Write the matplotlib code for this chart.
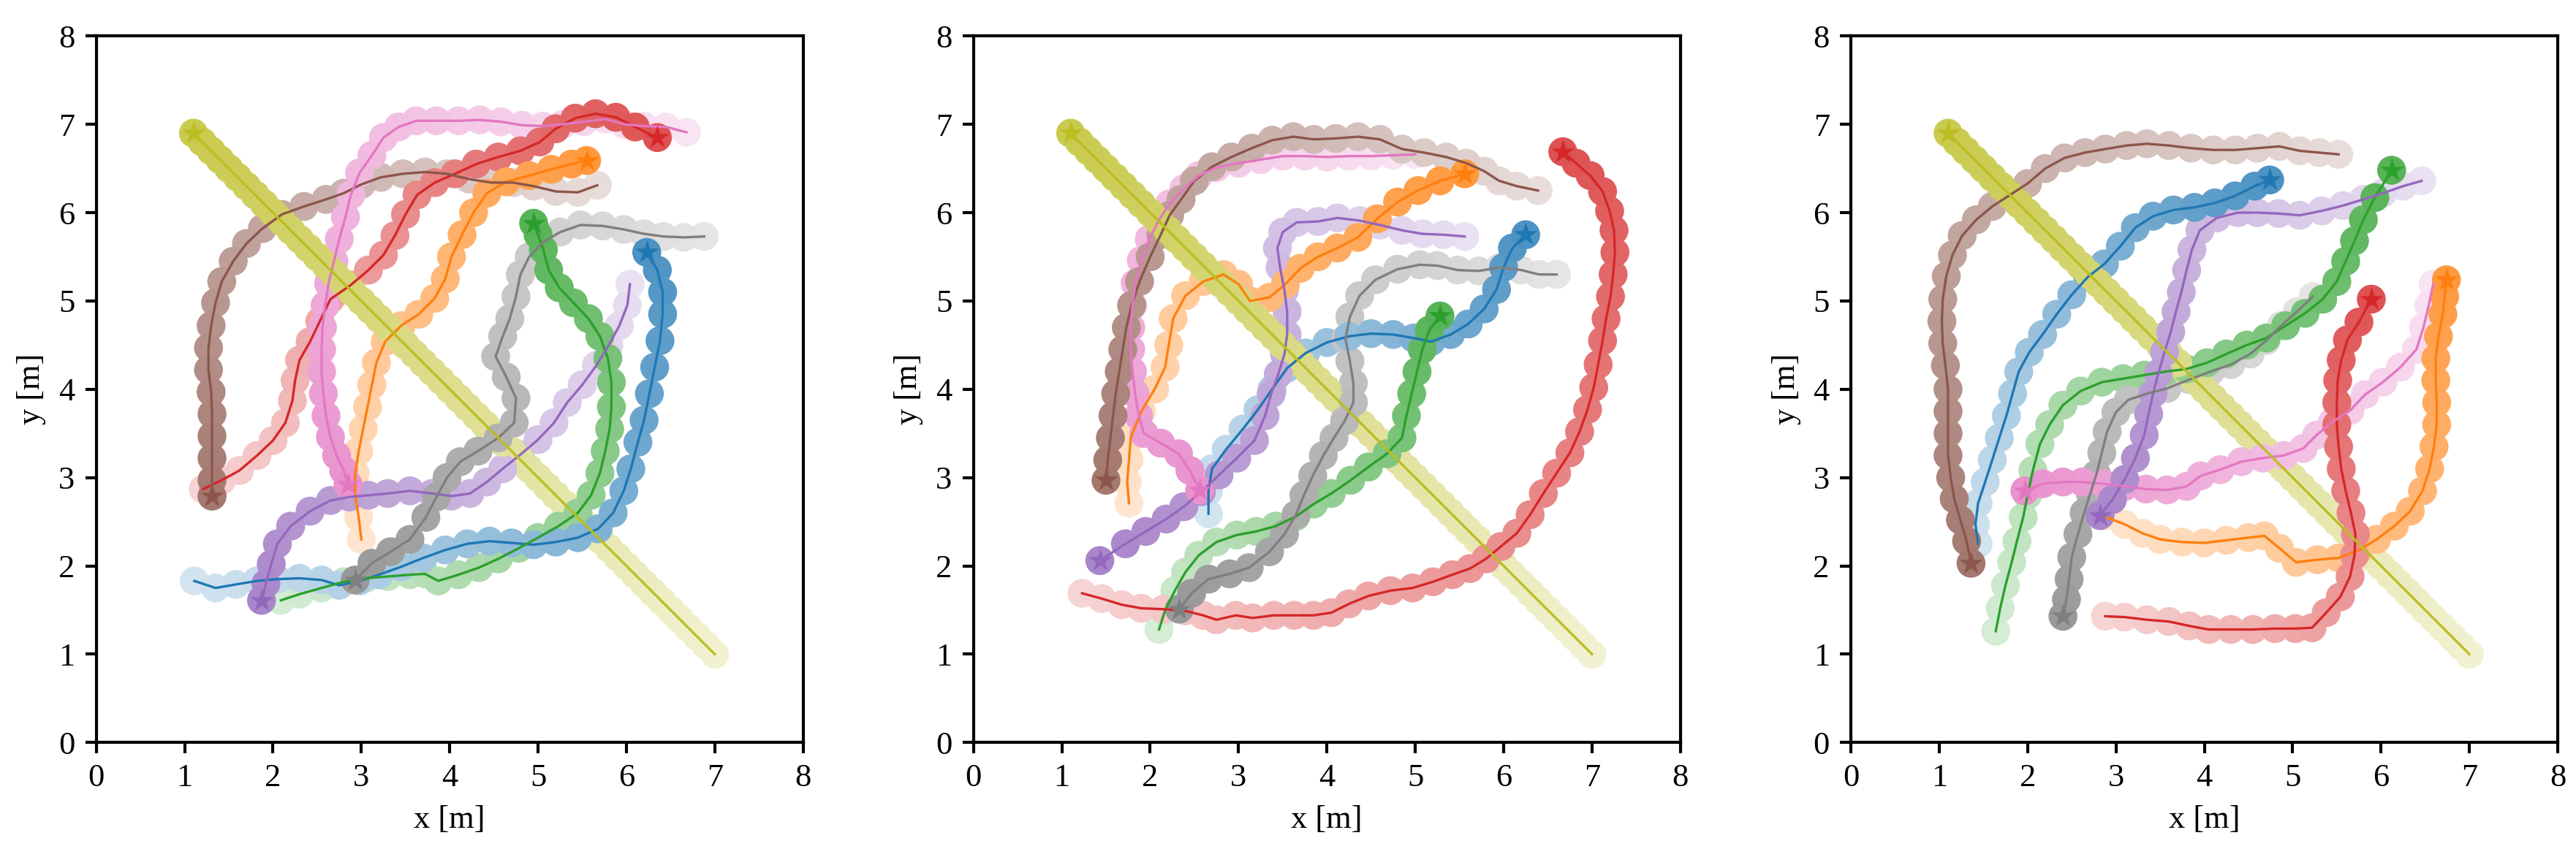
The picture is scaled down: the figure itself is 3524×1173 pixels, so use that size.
"""Robot trajectories of three runs, drawn as fading discs with the path line on top"""

import matplotlib

matplotlib.use("Agg")

import matplotlib.pyplot as plt
import numpy as np
from matplotlib.axes import Axes
from matplotlib.colors import to_rgb

plt.rcParams["font.family"] = ["Liberation Serif", "DejaVu Serif"]
plt.rcParams["font.size"] = 10.7
plt.rcParams["axes.linewidth"] = 1.0
plt.rcParams["xtick.major.width"] = 1.0
plt.rcParams["ytick.major.width"] = 1.0

# Robot colours, in the order the paths are listed
ROBOT_COLORS = ["tab:blue", "tab:orange", "tab:green", "tab:red", "tab:purple",
                "tab:brown", "tab:pink", "tab:gray", "tab:olive"]

# The olive robot takes the same diagonal in every run (start -> goal), in small steps
OLIVE_PATH = np.array([
    (7.0, 1.0), (6.9, 1.1), (6.8, 1.2), (6.7, 1.3), (6.6, 1.4), (6.5, 1.5), (6.4, 1.6),
    (6.3, 1.7), (6.2, 1.8), (6.1, 1.9), (6.0, 2.0), (5.9, 2.1), (5.8, 2.2), (5.7, 2.3),
    (5.6, 2.4), (5.5, 2.5), (5.4, 2.6), (5.3, 2.7), (5.2, 2.8), (5.1, 2.9), (5.0, 3.0),
    (4.9, 3.1), (4.8, 3.2), (4.7, 3.3), (4.6, 3.4), (4.5, 3.5), (4.4, 3.6), (4.3, 3.7),
    (4.2, 3.8), (4.1, 3.9), (4.0, 4.0), (3.9, 4.1), (3.8, 4.2), (3.7, 4.3), (3.6, 4.4),
    (3.5, 4.5), (3.4, 4.6), (3.3, 4.7), (3.2, 4.8), (3.1, 4.9), (3.0, 5.0), (2.9, 5.1),
    (2.8, 5.2), (2.7, 5.3), (2.6, 5.4), (2.5, 5.5), (2.4, 5.6), (2.3, 5.7), (2.2, 5.8),
    (2.1, 5.9), (2.0, 6.0), (1.9, 6.1), (1.8, 6.2), (1.7, 6.3), (1.6, 6.4), (1.5, 6.5),
    (1.4, 6.6), (1.3, 6.7), (1.2, 6.8), (1.1, 6.9),
])

# ---- Run 1 ----
P1_BLUE = np.array([
    (1.11, 1.83), (1.35, 1.75), (1.58, 1.79), (1.82, 1.83), (2.05, 1.85), (2.3, 1.86),
    (2.55, 1.84), (2.75, 1.78), (2.98, 1.83), (3.2, 1.9), (3.45, 1.99), (3.7, 2.09),
    (3.95, 2.18), (4.2, 2.25), (4.45, 2.28), (4.7, 2.26), (4.95, 2.24), (5.2, 2.27),
    (5.45, 2.32), (5.68, 2.42), (5.85, 2.6), (5.97, 2.85), (6.05, 3.1), (6.13, 3.4),
    (6.2, 3.65), (6.26, 3.95), (6.32, 4.25), (6.38, 4.55), (6.41, 4.85), (6.41, 5.1),
    (6.35, 5.35), (6.23, 5.55),
])
P1_ORANGE = np.array([
    (3.0, 2.3), (2.97, 2.55), (2.93, 2.8), (2.93, 3.05), (2.97, 3.3), (3.02, 3.55),
    (3.07, 3.8), (3.12, 4.05), (3.17, 4.3), (3.27, 4.54), (3.45, 4.72), (3.65, 4.85),
    (3.83, 5.03), (3.95, 5.25), (4.02, 5.5), (4.14, 5.75), (4.27, 6.0), (4.42, 6.22),
    (4.64, 6.35), (4.9, 6.42), (5.15, 6.49), (5.38, 6.55), (5.55, 6.59),
])
P1_GREEN = np.array([
    (2.09, 1.61), (2.3, 1.68), (2.55, 1.75), (2.8, 1.82), (3.05, 1.86), (3.3, 1.88),
    (3.55, 1.9), (3.72, 1.91), (3.87, 1.83), (4.1, 1.9), (4.33, 1.98), (4.55, 2.08),
    (4.78, 2.2), (5.0, 2.32), (5.23, 2.45), (5.45, 2.6), (5.6, 2.8), (5.7, 3.05),
    (5.76, 3.3), (5.81, 3.55), (5.83, 3.8), (5.83, 4.08), (5.79, 4.35), (5.7, 4.6),
    (5.57, 4.8), (5.4, 4.98), (5.24, 5.15), (5.12, 5.35), (5.06, 5.58), (5.0, 5.75),
    (4.95, 5.88),
])
P1_RED = np.array([
    (1.21, 2.87), (1.42, 2.97), (1.62, 3.08), (1.82, 3.25), (2.0, 3.42), (2.14, 3.62),
    (2.22, 3.87), (2.25, 4.1), (2.3, 4.33), (2.42, 4.54), (2.53, 4.77), (2.65, 5.02),
    (2.88, 5.18), (3.08, 5.35), (3.25, 5.52), (3.38, 5.74), (3.5, 5.98), (3.63, 6.2),
    (3.83, 6.34), (4.06, 6.44), (4.3, 6.55), (4.55, 6.63), (4.8, 6.7), (5.02, 6.8),
    (5.2, 6.95), (5.42, 7.07), (5.65, 7.12), (5.88, 7.08), (6.1, 6.97), (6.35, 6.85),
])
P1_PURPLE = np.array([
    (6.04, 5.19), (6.01, 4.95), (5.92, 4.72), (5.8, 4.5), (5.66, 4.27), (5.5, 4.05),
    (5.33, 3.85), (5.18, 3.62), (5.0, 3.43), (4.8, 3.26), (4.6, 3.1), (4.42, 2.95),
    (4.23, 2.82), (4.02, 2.79), (3.8, 2.82), (3.55, 2.85), (3.3, 2.82), (3.08, 2.8),
    (2.86, 2.78), (2.65, 2.74), (2.42, 2.62), (2.2, 2.45), (2.05, 2.25), (1.98, 2.02),
    (1.92, 1.8), (1.87, 1.61),
])
P1_BROWN = np.array([
    (5.67, 6.31), (5.45, 6.23), (5.2, 6.24), (4.95, 6.3), (4.72, 6.34), (4.47, 6.34),
    (4.22, 6.38), (3.97, 6.44), (3.72, 6.46), (3.47, 6.44), (3.22, 6.4), (3.0, 6.32),
    (2.8, 6.22), (2.6, 6.15), (2.35, 6.07), (2.1, 5.98), (1.88, 5.82), (1.7, 5.65),
    (1.55, 5.45), (1.42, 5.22), (1.35, 4.98), (1.3, 4.72), (1.27, 4.47), (1.27, 4.22),
    (1.3, 3.97), (1.31, 3.72), (1.31, 3.47), (1.31, 3.22), (1.31, 2.97), (1.31, 2.79),
])
P1_PINK = np.array([
    (6.68, 6.91), (6.45, 6.97), (6.2, 6.98), (5.98, 7.0), (5.76, 7.06), (5.52, 7.03),
    (5.28, 7.0), (5.05, 6.98), (4.82, 6.99), (4.58, 7.03), (4.34, 7.05), (4.1, 7.04),
    (3.85, 7.04), (3.62, 7.04), (3.42, 6.97), (3.25, 6.85), (3.12, 6.65), (2.98, 6.45),
    (2.88, 6.2), (2.82, 5.95), (2.75, 5.7), (2.69, 5.45), (2.63, 5.2), (2.59, 4.95),
    (2.56, 4.7), (2.55, 4.45), (2.55, 4.2), (2.57, 3.95), (2.6, 3.7), (2.65, 3.46),
    (2.72, 3.25), (2.8, 3.08), (2.85, 2.92),
])
P1_GRAY = np.array([
    (6.88, 5.73), (6.65, 5.72), (6.42, 5.73), (6.2, 5.76), (5.97, 5.81), (5.73, 5.85),
    (5.48, 5.86), (5.25, 5.78), (5.05, 5.66), (4.9, 5.5), (4.8, 5.3), (4.75, 5.05),
    (4.68, 4.8), (4.6, 4.6), (4.52, 4.37), (4.64, 4.14), (4.75, 3.9), (4.73, 3.62),
    (4.55, 3.45), (4.32, 3.3), (4.12, 3.18), (3.97, 3.0), (3.85, 2.78), (3.73, 2.55),
    (3.55, 2.3), (3.33, 2.16), (3.12, 2.03), (2.93, 1.84),
])

# ---- Run 2 ----
P2_BLUE = np.array([
    (2.66, 2.59), (2.66, 2.85), (2.7, 3.1), (2.86, 3.32), (3.05, 3.55), (3.22, 3.77),
    (3.38, 4.0), (3.55, 4.24), (3.76, 4.41), (4.0, 4.53), (4.25, 4.6), (4.5, 4.63),
    (4.75, 4.62), (4.98, 4.58), (5.18, 4.54), (5.4, 4.62), (5.6, 4.74), (5.78, 4.91),
    (5.92, 5.13), (6.0, 5.38), (6.1, 5.6), (6.25, 5.75),
])
P2_ORANGE = np.array([
    (1.76, 2.71), (1.74, 2.95), (1.76, 3.2), (1.78, 3.45), (1.9, 3.75), (2.05, 4.0),
    (2.17, 4.25), (2.21, 4.5), (2.26, 4.8), (2.4, 5.06), (2.6, 5.22), (2.83, 5.3),
    (3.0, 5.19), (3.13, 5.0), (3.35, 5.04), (3.53, 5.19), (3.7, 5.37), (3.9, 5.5),
    (4.12, 5.6), (4.35, 5.72), (4.57, 5.93), (4.8, 6.12), (5.03, 6.25), (5.28, 6.36),
    (5.56, 6.44),
])
P2_GREEN = np.array([
    (2.1, 1.28), (2.17, 1.5), (2.28, 1.72), (2.4, 1.93), (2.55, 2.12), (2.75, 2.27),
    (2.98, 2.35), (3.2, 2.39), (3.42, 2.45), (3.65, 2.56), (3.85, 2.7), (4.05, 2.82),
    (4.27, 2.97), (4.47, 3.12), (4.68, 3.27), (4.85, 3.45), (4.9, 3.7), (4.96, 3.95),
    (5.02, 4.2), (5.08, 4.45), (5.16, 4.67), (5.28, 4.83),
])
P2_RED = np.array([
    (1.23, 1.69), (1.45, 1.63), (1.68, 1.56), (1.9, 1.52), (2.15, 1.51), (2.4, 1.49),
    (2.6, 1.44), (2.75, 1.39), (2.97, 1.44), (3.16, 1.41), (3.4, 1.44), (3.63, 1.44),
    (3.85, 1.44), (4.05, 1.47), (4.25, 1.57), (4.47, 1.66), (4.72, 1.72), (4.97, 1.75),
    (5.2, 1.82), (5.42, 1.9), (5.62, 1.97), (5.8, 2.08), (5.97, 2.22), (6.15, 2.37),
    (6.3, 2.58), (6.45, 2.82), (6.6, 3.05), (6.75, 3.28), (6.86, 3.52), (6.95, 3.77),
    (7.02, 4.02), (7.07, 4.28), (7.12, 4.55), (7.16, 4.8), (7.21, 5.05), (7.24, 5.3),
    (7.26, 5.55), (7.25, 5.8), (7.2, 6.02), (7.12, 6.24), (6.98, 6.42), (6.82, 6.56),
    (6.67, 6.69),
])
P2_PURPLE = np.array([
    (5.56, 5.73), (5.32, 5.75), (5.08, 5.76), (4.85, 5.8), (4.6, 5.86), (4.37, 5.91),
    (4.12, 5.94), (3.9, 5.9), (3.66, 5.89), (3.5, 5.78), (3.44, 5.6), (3.47, 5.38),
    (3.52, 5.12), (3.55, 4.88), (3.55, 4.62), (3.52, 4.4), (3.45, 4.17), (3.37, 3.95),
    (3.3, 3.7), (3.18, 3.42), (2.98, 3.22), (2.78, 3.03), (2.58, 2.84), (2.38, 2.67),
    (2.18, 2.53), (1.95, 2.39), (1.72, 2.25), (1.43, 2.06),
])
P2_BROWN = np.array([
    (6.39, 6.25), (6.15, 6.3), (5.95, 6.36), (5.78, 6.47), (5.58, 6.56), (5.35, 6.63),
    (5.1, 6.68), (4.85, 6.72), (4.6, 6.83), (4.35, 6.86), (4.1, 6.84), (3.85, 6.83),
    (3.62, 6.86), (3.38, 6.82), (3.15, 6.73), (2.92, 6.63), (2.7, 6.52), (2.5, 6.36),
    (2.35, 6.15), (2.22, 5.97), (2.12, 5.75), (2.0, 5.5), (1.88, 5.22), (1.79, 4.95),
    (1.73, 4.7), (1.69, 4.45), (1.65, 4.2), (1.61, 3.95), (1.58, 3.7), (1.55, 3.45),
    (1.52, 3.2), (1.5, 2.97),
])
P2_PINK = np.array([
    (5.0, 6.66), (4.75, 6.65), (4.5, 6.64), (4.25, 6.64), (4.0, 6.63), (3.75, 6.64),
    (3.5, 6.64), (3.25, 6.6), (3.0, 6.56), (2.75, 6.51), (2.55, 6.42), (2.38, 6.27),
    (2.22, 6.1), (2.1, 5.92), (1.99, 5.7), (1.9, 5.46), (1.83, 5.2), (1.8, 4.95),
    (1.78, 4.7), (1.78, 4.45), (1.8, 4.2), (1.83, 3.95), (1.87, 3.7), (1.93, 3.5),
    (2.12, 3.39), (2.32, 3.27), (2.45, 3.08), (2.56, 2.86),
])
P2_GRAY = np.array([
    (6.6, 5.3), (6.4, 5.3), (6.2, 5.35), (5.96, 5.38), (5.72, 5.34), (5.48, 5.35),
    (5.25, 5.4), (5.05, 5.41), (4.8, 5.36), (4.55, 5.24), (4.37, 5.06), (4.26, 4.82),
    (4.21, 4.57), (4.26, 4.32), (4.3, 4.07), (4.3, 3.85), (4.2, 3.64), (4.08, 3.45),
    (3.96, 3.25), (3.84, 3.02), (3.74, 2.8), (3.65, 2.58), (3.52, 2.36), (3.35, 2.16),
    (3.12, 1.98), (2.9, 1.91), (2.66, 1.85), (2.47, 1.69), (2.33, 1.51),
])

# ---- Run 3 ----
P3_BLUE = np.array([
    (1.44, 2.25), (1.41, 2.47), (1.44, 2.71), (1.52, 2.95), (1.6, 3.2), (1.68, 3.45),
    (1.76, 3.7), (1.83, 3.95), (1.9, 4.2), (2.02, 4.42), (2.17, 4.62), (2.33, 4.85),
    (2.5, 5.07), (2.68, 5.27), (2.87, 5.42), (3.05, 5.62), (3.22, 5.83), (3.42, 5.96),
    (3.65, 6.03), (3.89, 6.06), (4.12, 6.11), (4.35, 6.19), (4.57, 6.3), (4.74, 6.37),
])
P3_ORANGE = np.array([
    (2.87, 2.56), (3.1, 2.47), (3.3, 2.37), (3.5, 2.3), (3.75, 2.27), (4.0, 2.26),
    (4.25, 2.29), (4.5, 2.32), (4.68, 2.34), (4.85, 2.2), (5.04, 2.04), (5.28, 2.07),
    (5.52, 2.09), (5.75, 2.18), (5.95, 2.3), (6.15, 2.45), (6.33, 2.62), (6.47, 2.85),
    (6.55, 3.1), (6.6, 3.35), (6.63, 3.6), (6.63, 3.85), (6.62, 4.1), (6.62, 4.35),
    (6.65, 4.6), (6.7, 4.85), (6.72, 5.05), (6.74, 5.24),
])
P3_GREEN = np.array([
    (1.64, 1.26), (1.69, 1.52), (1.75, 1.78), (1.82, 2.04), (1.88, 2.28), (1.95, 2.55),
    (2.0, 2.8), (2.06, 3.08), (2.14, 3.38), (2.25, 3.6), (2.4, 3.82), (2.6, 3.98),
    (2.84, 4.08), (3.08, 4.12), (3.32, 4.16), (3.56, 4.2), (3.8, 4.23), (4.03, 4.3),
    (4.25, 4.4), (4.48, 4.5), (4.7, 4.58), (4.92, 4.72), (5.14, 4.86), (5.34, 5.02),
    (5.5, 5.22), (5.6, 5.45), (5.7, 5.68), (5.8, 5.92), (5.93, 6.17), (6.12, 6.48),
])
P3_RED = np.array([
    (2.88, 1.43), (3.1, 1.42), (3.35, 1.39), (3.6, 1.37), (3.83, 1.32), (4.05, 1.28),
    (4.3, 1.28), (4.55, 1.28), (4.8, 1.29), (5.03, 1.29), (5.22, 1.3), (5.38, 1.47),
    (5.54, 1.65), (5.65, 1.88), (5.7, 2.12), (5.71, 2.36), (5.66, 2.6), (5.6, 2.85),
    (5.55, 3.1), (5.52, 3.35), (5.5, 3.6), (5.5, 3.85), (5.51, 4.1), (5.55, 4.33),
    (5.62, 4.56), (5.75, 4.76), (5.89, 5.02),
])
P3_PURPLE = np.array([
    (6.46, 6.36), (6.25, 6.3), (6.02, 6.22), (5.8, 6.15), (5.57, 6.08), (5.33, 6.02),
    (5.08, 5.97), (4.84, 5.99), (4.6, 6.0), (4.38, 6.0), (4.14, 5.94), (3.95, 5.8),
    (3.86, 5.58), (3.8, 5.35), (3.74, 5.1), (3.68, 4.88), (3.62, 4.65), (3.55, 4.42),
    (3.48, 4.18), (3.42, 3.95), (3.37, 3.72), (3.32, 3.48), (3.22, 3.22), (3.1, 2.98),
    (2.96, 2.75), (2.82, 2.57),
])
P3_BROWN = np.array([
    (5.52, 6.66), (5.3, 6.68), (5.08, 6.7), (4.85, 6.75), (4.6, 6.73), (4.35, 6.71),
    (4.1, 6.71), (3.85, 6.73), (3.6, 6.76), (3.35, 6.78), (3.12, 6.76), (2.88, 6.72),
    (2.65, 6.68), (2.42, 6.62), (2.2, 6.5), (2.0, 6.33), (1.8, 6.2), (1.6, 6.07),
    (1.42, 5.92), (1.26, 5.74), (1.15, 5.52), (1.08, 5.28), (1.04, 5.02), (1.03, 4.77),
    (1.04, 4.52), (1.07, 4.27), (1.1, 4.0), (1.1, 3.75), (1.1, 3.5), (1.1, 3.25),
    (1.13, 3.0), (1.17, 2.76), (1.24, 2.52), (1.31, 2.28), (1.36, 2.03),
])
P3_PINK = np.array([
    (6.59, 5.19), (6.54, 4.95), (6.48, 4.7), (6.4, 4.45), (6.22, 4.25), (6.02, 4.08),
    (5.82, 3.94), (5.65, 3.76), (5.45, 3.63), (5.27, 3.48), (5.12, 3.33), (4.9, 3.25),
    (4.66, 3.22), (4.42, 3.18), (4.18, 3.09), (3.96, 3.02), (3.8, 2.9), (3.58, 2.86),
    (3.34, 2.87), (3.1, 2.9), (2.86, 2.93), (2.62, 2.95), (2.4, 2.95), (2.17, 2.93),
    (1.97, 2.85),
])
P3_GRAY = np.array([
    (5.23, 5.05), (5.05, 4.88), (4.87, 4.72), (4.7, 4.55), (4.52, 4.4), (4.3, 4.28),
    (4.07, 4.2), (3.83, 4.11), (3.58, 4.01), (3.35, 3.95), (3.14, 3.88), (3.0, 3.74),
    (2.9, 3.52), (2.84, 3.28), (2.78, 3.04), (2.71, 2.82), (2.64, 2.6), (2.57, 2.36),
    (2.5, 2.1), (2.47, 1.85), (2.44, 1.62), (2.4, 1.43),
])

RUNS = [
    [P1_BLUE, P1_ORANGE, P1_GREEN, P1_RED, P1_PURPLE, P1_BROWN, P1_PINK, P1_GRAY, OLIVE_PATH],
    [P2_BLUE, P2_ORANGE, P2_GREEN, P2_RED, P2_PURPLE, P2_BROWN, P2_PINK, P2_GRAY, OLIVE_PATH],
    [P3_BLUE, P3_ORANGE, P3_GREEN, P3_RED, P3_PURPLE, P3_BROWN, P3_PINK, P3_GRAY, OLIVE_PATH],
]

# Axes boxes in pixels of the 3524x1173 canvas: left edge, top edge, size
FIG_W, FIG_H = 3524, 1173
AXES_LEFT = [131.7, 1331.7, 2532.0]
AXES_TOP, AXES_SIZE = 49.3, 967.0


def _fade(color: str, progress: np.ndarray) -> np.ndarray:
    """Blends a colour with white, stronger as the robot moves on"""
    rgb = np.array(to_rgb(color))
    alpha = 0.2 + 0.6 * progress
    return 1.0 - alpha[:, None] * (1.0 - rgb)


def plot_run(axes: Axes, paths: list) -> None:
    """Draws the discs of all robots in time order, then the path lines and goal stars"""
    points, colors, times = [], [], []
    for path, color in zip(paths, ROBOT_COLORS):
        progress = np.arange(len(path)) / (len(path) - 1)
        points.append(path)
        colors.append(_fade(color, progress))
        times.append(progress)

    points = np.concatenate(points)
    colors = np.concatenate(colors)
    order = np.argsort(np.concatenate(times), kind="stable")
    axes.scatter(points[order, 0], points[order, 1], s=90, c=colors[order],
                 linewidths=0, zorder=1)

    for path, color in zip(paths, ROBOT_COLORS):
        axes.plot(path[:, 0], path[:, 1], color=color, lw=0.8, zorder=2)
        axes.scatter(path[-1, 0], path[-1, 1], marker="*", s=65, color=color,
                     linewidths=0, zorder=3)

    axes.set_xlim(0, 8)
    axes.set_ylim(0, 8)
    axes.set_xticks(range(9))
    axes.set_yticks(range(9))
    axes.set_aspect("equal")
    axes.set_xlabel("x [m]")
    axes.set_ylabel("y [m]")


figure = plt.figure(figsize=(FIG_W / 300, FIG_H / 300), dpi=300)
for left, paths in zip(AXES_LEFT, RUNS):
    box = [left / FIG_W, (FIG_H - AXES_TOP - AXES_SIZE) / FIG_H, AXES_SIZE / FIG_W, AXES_SIZE / FIG_H]
    plot_run(figure.add_axes(box), paths)

figure.savefig("out.png", dpi=300)
